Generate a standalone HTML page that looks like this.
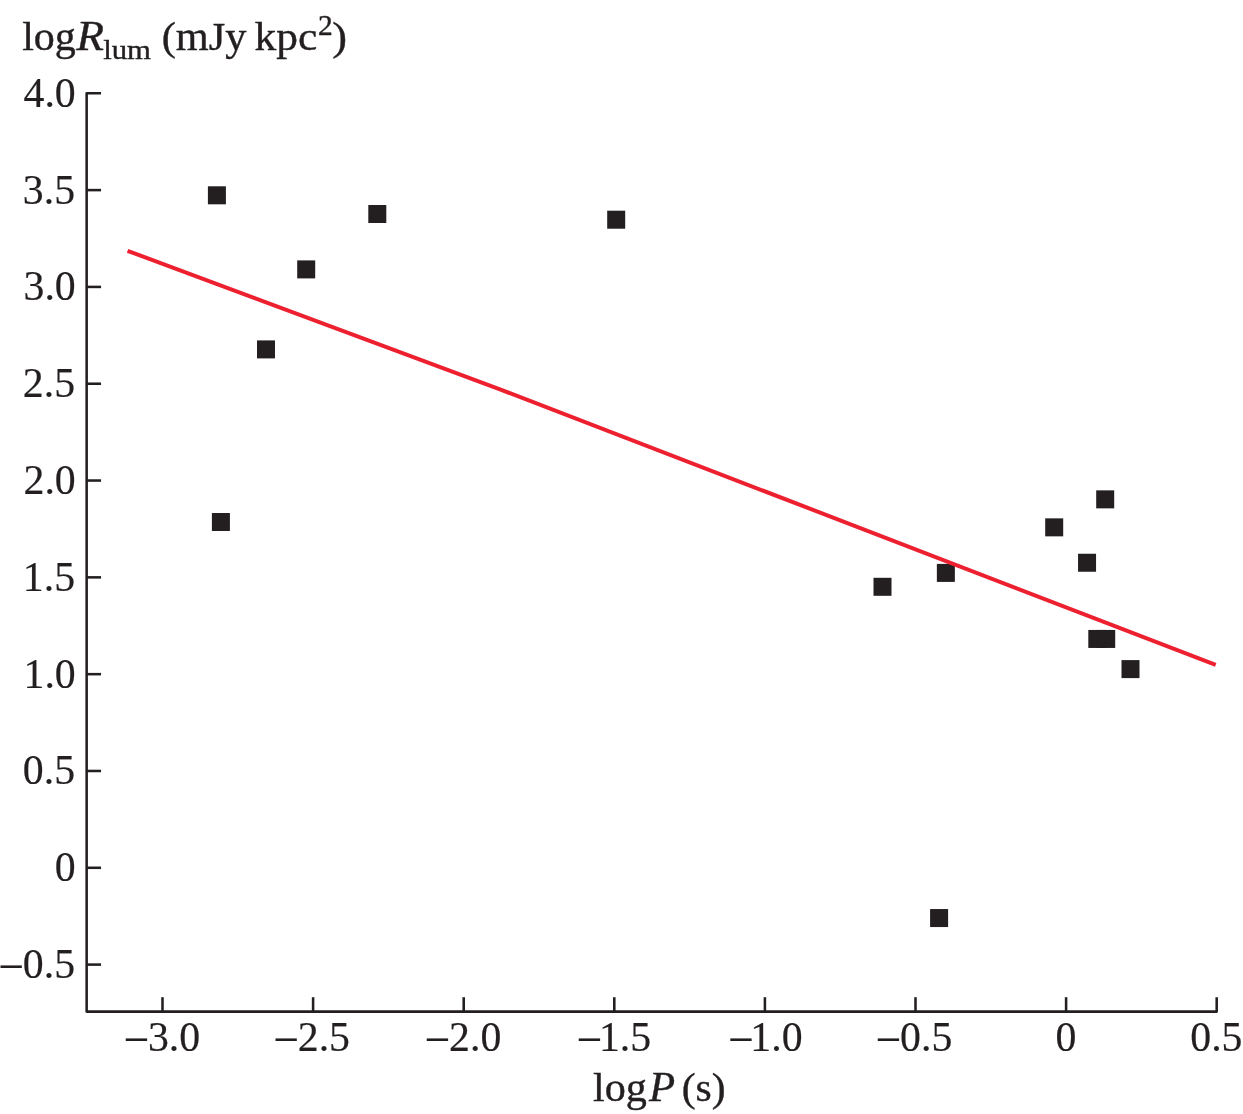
<!DOCTYPE html>
<html lang="en"><head><meta charset="utf-8"><title>log R_lum vs log P</title>
<style>
html,body{margin:0;padding:0;background:#fff;}
body{width:1243px;height:1114px;overflow:hidden;}
svg{display:block;}
text{font-family:"Liberation Serif","Times New Roman",Times,serif;fill:#231f20;}
.i{font-style:italic;}
</style></head><body>
<svg width="1243" height="1114" viewBox="0 0 1243 1114">
<rect width="1243" height="1114" fill="#fff"/>
<g fill="none" stroke="#231f20" stroke-width="2.55" stroke-linejoin="round" stroke-linecap="butt">
<path d="M101.05 93.30H86.65V1011.60H1216.70V997.20"/>
<path d="M86.65 190.11h14.4"/>
<path d="M86.65 286.92h14.4"/>
<path d="M86.65 383.73h14.4"/>
<path d="M86.65 480.54h14.4"/>
<path d="M86.65 577.36h14.4"/>
<path d="M86.65 674.17h14.4"/>
<path d="M86.65 770.98h14.4"/>
<path d="M86.65 867.79h14.4"/>
<path d="M86.65 964.60h14.4"/>
<path d="M162.50 1011.60v-14.4"/>
<path d="M313.10 1011.60v-14.4"/>
<path d="M463.70 1011.60v-14.4"/>
<path d="M614.30 1011.60v-14.4"/>
<path d="M764.90 1011.60v-14.4"/>
<path d="M915.50 1011.60v-14.4"/>
<path d="M1066.10 1011.60v-14.4"/>
</g>
<g fill="#231f20">
<rect x="207.90" y="186.30" width="18.0" height="18.0"/>
<rect x="368.30" y="205.00" width="18.0" height="18.0"/>
<rect x="297.20" y="260.40" width="18.0" height="18.0"/>
<rect x="257.00" y="340.40" width="18.0" height="18.0"/>
<rect x="607.20" y="210.70" width="18.0" height="18.0"/>
<rect x="211.90" y="513.00" width="18.0" height="18.0"/>
<rect x="873.50" y="577.80" width="18.0" height="18.0"/>
<rect x="936.86" y="563.90" width="18.0" height="18.0"/>
<rect x="1045.20" y="518.35" width="18.0" height="18.0"/>
<rect x="1096.20" y="490.35" width="18.0" height="18.0"/>
<rect x="1078.05" y="553.75" width="18.0" height="18.0"/>
<rect x="1088.30" y="629.95" width="18.0" height="18.0"/>
<rect x="1097.20" y="629.95" width="18.0" height="18.0"/>
<rect x="1121.50" y="660.10" width="18.0" height="18.0"/>
<rect x="930.10" y="909.05" width="18.0" height="18.0"/>
</g>
<path d="M127.56 250.8L500 389.4L1215.7 664.9" stroke="#ed2030" stroke-width="4" stroke-linejoin="round" fill="none"/>
<g font-size="42.9" stroke="#231f20" stroke-width="0.2">
<text transform="translate(75.75 106.70) scale(0.975 1)" text-anchor="end">4.0</text>
<text transform="translate(75.10 203.51) scale(0.975 1)" text-anchor="end">3.5</text>
<text transform="translate(75.75 300.32) scale(0.975 1)" text-anchor="end">3.0</text>
<text transform="translate(75.10 397.13) scale(0.975 1)" text-anchor="end">2.5</text>
<text transform="translate(75.75 493.94) scale(0.975 1)" text-anchor="end">2.0</text>
<text transform="translate(75.10 590.76) scale(0.975 1)" text-anchor="end">1.5</text>
<text transform="translate(75.75 687.57) scale(0.975 1)" text-anchor="end">1.0</text>
<text transform="translate(75.10 784.38) scale(0.975 1)" text-anchor="end">0.5</text>
<text transform="translate(75.75 881.19) scale(0.975 1)" text-anchor="end">0</text>
<g><text transform="translate(-1.45 983.10) scale(1.0579 1.14)">−</text><text transform="translate(75.10 978.00) scale(0.975 1)" text-anchor="end">0.5</text></g>
<g><text transform="translate(123.65 1056.10) scale(1.0579 1.14)">−</text><text transform="translate(200.20 1051.00) scale(0.975 1)" text-anchor="end">3.0</text></g>
<g><text transform="translate(273.45 1056.10) scale(1.0579 1.14)">−</text><text transform="translate(350.00 1051.00) scale(0.975 1)" text-anchor="end">2.5</text></g>
<g><text transform="translate(424.85 1056.10) scale(1.0579 1.14)">−</text><text transform="translate(501.40 1051.00) scale(0.975 1)" text-anchor="end">2.0</text></g>
<g><text transform="translate(576.85 1056.10) scale(1.0579 1.14)">−</text><text transform="translate(651.20 1051.00) scale(0.975 1)" text-anchor="end">1.5</text></g>
<g><text transform="translate(728.25 1056.10) scale(1.0579 1.14)">−</text><text transform="translate(802.60 1051.00) scale(0.975 1)" text-anchor="end">1.0</text></g>
<g><text transform="translate(875.85 1056.10) scale(1.0579 1.14)">−</text><text transform="translate(952.40 1051.00) scale(0.975 1)" text-anchor="end">0.5</text></g>
<text transform="translate(1076.40 1051.00) scale(0.975 1)" text-anchor="end">0</text>
<text transform="translate(1242.50 1051.00) scale(0.975 1)" text-anchor="end">0.5</text>
</g>
<g stroke="#231f20" stroke-width="0.4">
<text font-size="39.6" transform="translate(22.20 49.80) scale(1.0605 1)">log</text>
<text class="i" font-size="41.5" transform="translate(76.23 49.80) scale(1.0944 1)">R</text>
<text font-size="27.7" transform="translate(103.17 59.00) scale(1.1106 1)">lum </text>
<text font-size="39.6" transform="translate(161.63 49.80) scale(1.0698 1)">(mJy </text>
<text font-size="39.6" transform="translate(254.61 49.80) scale(1.0961 1)">kpc</text>
<text font-size="30.0" transform="translate(317.89 34.60) scale(0.9825 1)">2</text>
<text font-size="39.6" transform="translate(332.35 49.80) scale(1.1177 1)">)</text>
<text font-size="39.6" transform="translate(592.95 1100.60) scale(1.0657 1)">log</text>
<text class="i" font-size="41.5" transform="translate(648.92 1100.60) scale(1.0300 1)">P </text>
<text font-size="39.6" transform="translate(681.76 1100.60) scale(1.0511 1)">(s)</text>
</g>
</svg></body></html>
